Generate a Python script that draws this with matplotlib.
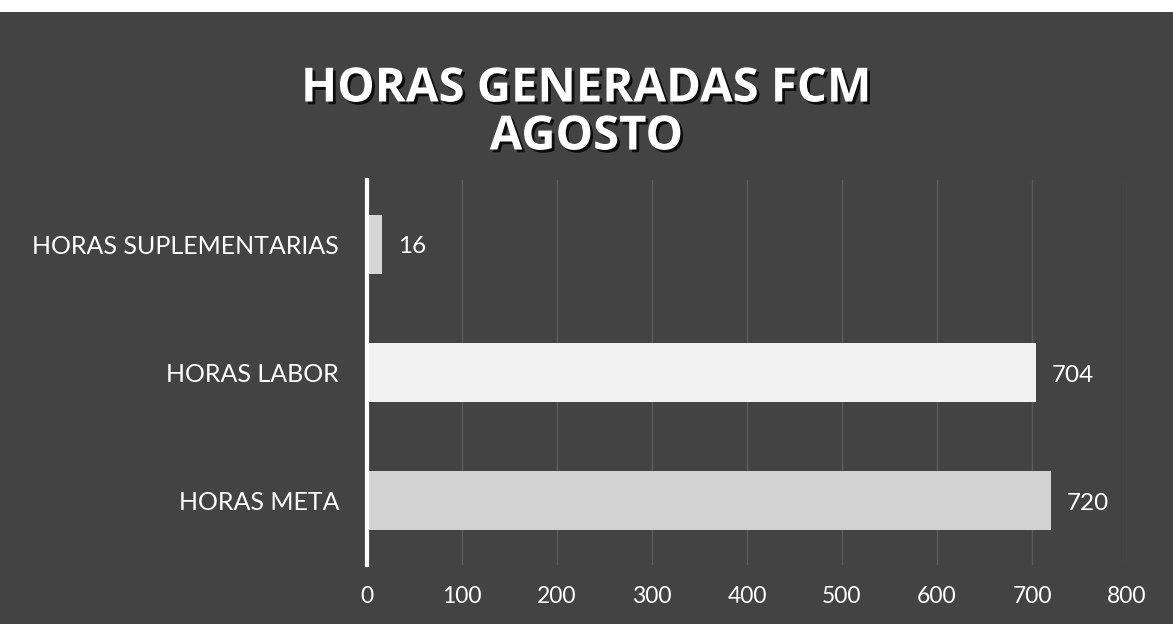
import matplotlib.pyplot as plt
import matplotlib.patheffects as pe
from matplotlib.patches import Rectangle

categorias = ["HORAS META", "HORAS LABOR", "HORAS SUPLEMENTARIAS"]
horas = [720, 704, 16]
colores = ["#d2d2d2", "#f2f2f2", "#d6d6d6"]
ticks_x = [0, 100, 200, 300, 400, 500, 600, 700, 800]

fondo = "#434343"

fig = plt.figure(figsize=(11.73, 6.24), dpi=100, facecolor=fondo)
# franja blanca en el borde superior
fig.patches.append(Rectangle((0, 1 - 12 / 624), 1, 12 / 624, transform=fig.transFigure,
                             facecolor="white", edgecolor="none", zorder=-1))

ax = fig.add_axes([367 / 1173, 1 - 565 / 624, (1127 - 367) / 1173, (565 - 180) / 624])
ax.set_facecolor("none")

y = range(len(categorias))
ax.barh(y, horas, height=0.46, color=colores, edgecolor="none", zorder=3)

for i, v in enumerate(horas):
    ax.text(v + 17, i - 0.02, str(v), color="white", fontsize=17.5, va="center", ha="left",
            family="Lato")

ax.set_xlim(0, 800)
ax.set_ylim(-0.5, 2.5)
ax.set_xticks(ticks_x)
ax.set_xticklabels([str(t) for t in ticks_x], color="white", fontsize=16.5, family="Lato")
ax.set_yticks(list(y))
ax.set_yticklabels(categorias, color="white", fontsize=18, family="Lato")
ax.tick_params(axis="both", length=0)
ax.tick_params(axis="x", pad=15)
ax.tick_params(axis="y", pad=20)

ax.grid(axis="x", color="#7a7a7a", linewidth=1, alpha=0.45, zorder=1)
ax.set_axisbelow(True)
for s in ["top", "right", "bottom"]:
    ax.spines[s].set_visible(False)
ax.spines["left"].set_color("white")
ax.spines["left"].set_linewidth(3)
ax.spines["left"].set_zorder(4)

sombra = [pe.withSimplePatchShadow(offset=(2, -2), shadow_rgbFace="black", alpha=0.8)]
fig.text(0.5, 1 - 89 / 624, "HORAS GENERADAS FCM", color="white", fontsize=34,
         fontweight="bold", family="Open Sans", ha="center", va="center",
         path_effects=sombra)
fig.text(0.5, 1 - 137 / 624, "AGOSTO", color="white", fontsize=34,
         fontweight="bold", family="Open Sans", ha="center", va="center",
         path_effects=sombra)

fig.savefig("out.png", dpi=100, facecolor=fig.get_facecolor())
